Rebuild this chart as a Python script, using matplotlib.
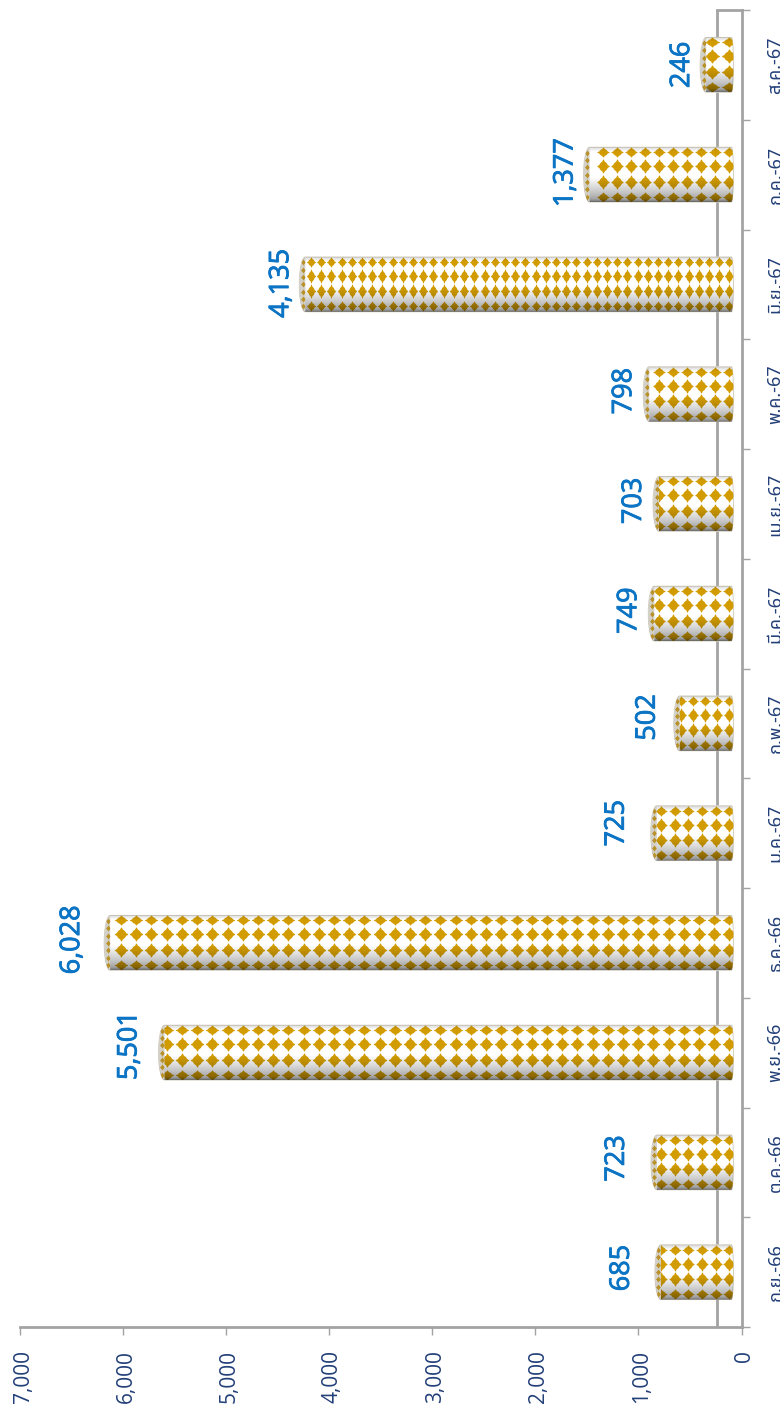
import numpy as np
import matplotlib
matplotlib.use("Agg")
import matplotlib.pyplot as plt
from matplotlib.path import Path
from matplotlib.patches import PathPatch
from matplotlib.patheffects import withStroke
from matplotlib.transforms import ScaledTranslation

# monthly values, bottom to top
months = ["ก.ย.-66", "ต.ค.-66", "พ.ย.-66", "ธ.ค.-66", "ม.ค.-67", "ก.พ.-67",
          "มี.ค.-67", "เม.ย.-67", "พ.ค.-67", "มิ.ย.-67", "ก.ค.-67", "ส.ค.-67"]
values = [685, 723, 5501, 6028, 725, 502, 749, 703, 798, 4135, 1377, 246]
value_ticks = [0, 1000, 2000, 3000, 4000, 5000, 6000, 7000]

W, H = 780, 1414
PX = 7000 / 721.0          # data units for one pixel along the value axis
ROW = 1317 / 12.0          # pixels for one category
BASE = 10 * PX             # 3D floor shift of the bars
WALL = 24 * PX             # back wall line
CAP = 6 * PX
GRAY = "#a3a3a3"
BLUE = "#0b74c4"
NAVY = "#223f78"
THAI = ["Noto Sans Thai", "Loma", "DejaVu Sans"]


def make_marker(w, h):
    # round blob with four small tips
    t = np.linspace(0, 2 * np.pi, 97)
    r = 0.7 + 0.3 * np.abs(np.cos(2 * t)) ** 14
    return Path(np.column_stack([r * np.cos(t) * w / max(w, h), r * np.sin(t) * h / max(w, h)]))


def half_ellipse(x, y, dx, down_first=True):
    a = np.linspace(np.pi / 2, 3 * np.pi / 2, 30)
    ys = y + 0.25 * np.sin(a) if down_first else y - 0.25 * np.sin(a)
    return np.column_stack([x + dx * np.abs(np.cos(a)), ys])


def bar_path(i, v):
    # outline of the cylinder: rounded on both ends
    far = half_ellipse(BASE + v, i, CAP)
    near = half_ellipse(BASE, i, -2 * PX, down_first=False)
    return Path(np.vstack([far, near, far[:1]]))


fig = plt.figure(figsize=(W / 100, H / 100), dpi=100, facecolor="white")
ax = fig.add_axes([20 / W, (H - 1327) / H, 721.5 / W, 1317 / H])

# walls
ax.axvline(WALL, color=GRAY, lw=2, zorder=1)
ax.plot([WALL, 0], [11.5, 11.5], color=GRAY, lw=2, zorder=1, clip_on=False)
for s in ["top", "left"]:
    ax.spines[s].set_visible(False)
for s in ["right", "bottom"]:
    ax.spines[s].set_color(GRAY)
    ax.spines[s].set_linewidth(2)

# shading that goes over the pattern
n = 64
pos = np.linspace(0, 1, n)  # 0 bottom, 1 top
alpha = np.interp(pos, [0, 0.05, 0.18, 0.45, 0.92, 1], [0.55, 0.36, 0.22, 0, 0, 0.14])
shade = np.zeros((n, 1, 4))
shade[:, 0, 3] = alpha

spacing = [13.7, 13.7, 15.2, 15.2, 13.7, 12, 14, 14, 14, 10.2, 14, 17]
row_shift = [-22.5, -8.5, 7, 22]  # pixels from the bar centre, downward
row_h = [10, 14, 14, 10]
label_gap = [33, 34, 29, 32, 34, 26, 19, 19, 19, 18, 18, 18]
label_up = [4, 4, 7, 3, 10, 6, 3, 3, 3, 1, 2, 0]

for i, v in enumerate(values):
    outline = bar_path(i, v)
    trans = ax.transData
    ax.add_patch(PathPatch(outline, fc="white", ec="#d6d0c2", lw=0.7, zorder=3))

    # pattern
    xs = np.arange(BASE + 2 * PX, BASE + v, spacing[i] * PX)
    for dy, h in zip(row_shift, row_h):
        w = spacing[i] * 0.88
        sc = ax.scatter(xs, np.full(len(xs), i - dy / ROW), marker=make_marker(w, h),
                        s=(max(w, h) * 0.72) ** 2, color="#d29c00", linewidths=0, zorder=4)
        sc.set_clip_path(outline, trans)

    im = ax.imshow(shade, extent=(BASE + v + CAP, BASE - 2 * PX, i - 0.25, i + 0.25), origin="lower",
                   aspect="auto", interpolation="bilinear", zorder=5)
    im.set_clip_path(outline, trans)

    # far end cap, only the outer half shows
    far = half_ellipse(BASE + v, i, CAP)
    cap = Path(np.vstack([far, far[:1]]))
    ax.add_patch(PathPatch(cap, fc="#d3d0c8", ec="none", zorder=6))
    cs = ax.scatter(np.full(7, BASE + v + 2.5 * PX), i + np.linspace(-0.2, 0.2, 7), marker=make_marker(5, 6),
                    s=(6 * 0.72) ** 2, color="#b89128", linewidths=0, zorder=7)
    cs.set_clip_path(cap, trans)

    ax.text(BASE + v + (6 + label_gap[i]) * PX, i + label_up[i] / ROW, f"{v:,}", rotation=90,
            ha="center", va="center", color=BLUE, fontsize=19.5, fontfamily="Open Sans",
            path_effects=[withStroke(linewidth=0.6, foreground=BLUE)], zorder=8)

ax.set_xlim(7000, 0)
ax.set_ylim(-0.5, 11.5)
ax.set_xticks(value_ticks)
ax.set_xticklabels([])
ax.tick_params(axis="x", length=5.8, width=1, color=GRAY)
for t in value_ticks:
    ax.annotate(f"{t:,}", xy=(t, 0), xycoords=ax.get_xaxis_transform(), xytext=(2.2, -16.3),
                textcoords="offset points", rotation=90, ha="center", va="top", color=NAVY,
                fontsize=15, fontfamily="Open Sans", annotation_clip=False)
ax.yaxis.tick_right()
ax.set_yticks(np.arange(-0.5, 12, 1))
ax.set_yticklabels([])
ax.tick_params(axis="y", length=5.8, width=1, color=GRAY)
for i, m in enumerate(months):
    ax.text(1, (i + 0.5) / 12, m, transform=ax.transAxes + ScaledTranslation(25 / 100, 0, fig.dpi_scale_trans),
            rotation=90, ha="left", va="center", color=NAVY, fontsize=13, family=THAI, clip_on=False)

fig.savefig("out.png", dpi=100)
